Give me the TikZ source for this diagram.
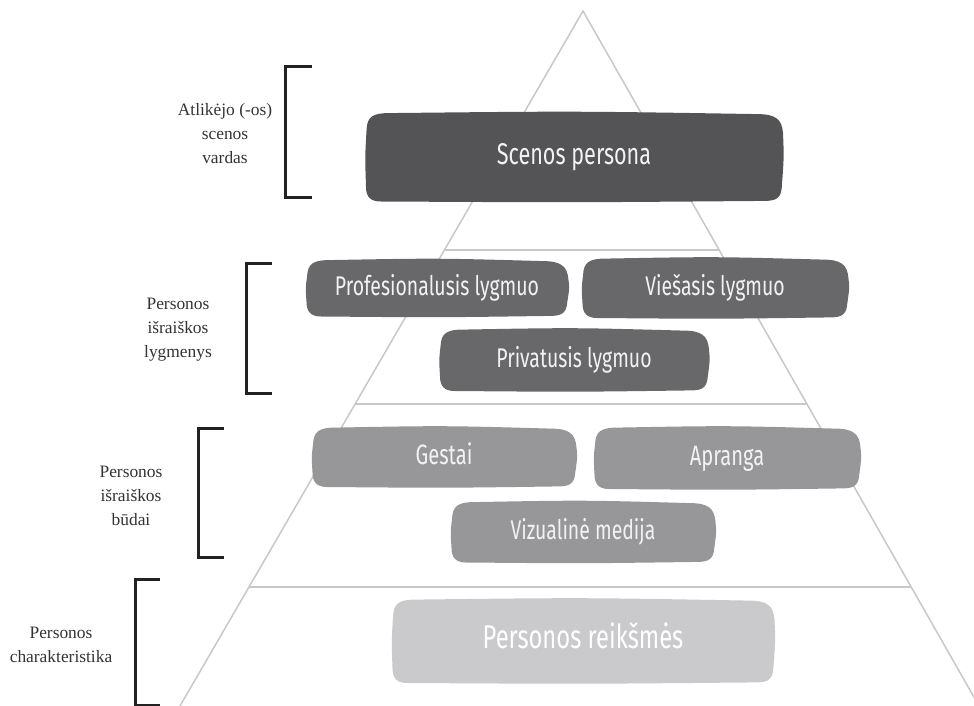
\documentclass[tikz,border=0pt]{standalone}
\usepackage{fontspec}
\setmainfont{Liberation Serif}
\newfontfamily\boxfont[FakeStretch=0.72]{Fira Sans}
\usetikzlibrary{calc}
\pgfdeclarelayer{bg}
\pgfsetlayers{bg,main}
\definecolor{cdark}{HTML}{545457}
\definecolor{cmid}{HTML}{68686B}
\definecolor{cgray}{HTML}{97979A}
\definecolor{clight}{HTML}{CACACC}
\definecolor{ctri}{HTML}{C8C8C8}
\definecolor{cbrk}{HTML}{222222}
\definecolor{clab}{HTML}{333333}
\tikzset{
  box/.style={inner sep=0pt, text=white!95!black, text height=0.72em, text depth=0pt},
  tri/.style={draw=ctri, line width=0.75pt},
  brk/.style={draw=cbrk, line width=1.5pt, line cap=butt, line join=miter},
  lab/.style={align=center, text=clab, font=\fontsize{8.7}{12}\selectfont},
}
\newcommand\blob[2]{%
  \begin{pgfonlayer}{bg}
  \fill[#2] ($(#1.south west)+(7pt,-0.3pt)$)
    .. controls ($(#1.south west)+(2pt,-0.3pt)$) and ($(#1.south west)+(-0.3pt,2pt)$) .. ($(#1.south west)+(-0.3pt,7pt)$)
    .. controls ($(#1.west)+(-0.8pt,0pt)$) .. ($(#1.north west)+(0pt,-8pt)$)
    .. controls ($(#1.north west)+(0.3pt,-2pt)$) and ($(#1.north west)+(3pt,0pt)$) .. ($(#1.north west)+(11pt,0pt)$)
    .. controls ($(#1.north)+(0pt,1pt)$) .. ($(#1.north east)+(-12pt,-0.5pt)$)
    .. controls ($(#1.north east)+(-3pt,-0.5pt)$) and ($(#1.north east)+(0.3pt,-3pt)$) .. ($(#1.north east)+(0.8pt,-10pt)$)
    .. controls ($(#1.east)+(1.3pt,0pt)$) .. ($(#1.south east)+(0.2pt,7pt)$)
    .. controls ($(#1.south east)+(-0.2pt,2pt)$) and ($(#1.south east)+(-2pt,0pt)$) .. ($(#1.south east)+(-8pt,0pt)$)
    .. controls ($(#1.south)+(0pt,-0.8pt)$) .. ($(#1.south west)+(7pt,-0.3pt)$)
    -- cycle;
  \end{pgfonlayer}}
\begin{document}
\begin{tikzpicture}[x=0.5pt,y=-0.5pt]
\useasboundingbox (0,0) rectangle (974,706);
\clip (0,0) rectangle (974,706);
% pyramid
\coordinate (apex) at (583,11);
\coordinate (bl) at (180,706);
\coordinate (br) at (979,706);
\coordinate (l1) at ($(apex)!0.3439!(bl)$);
\coordinate (r1) at ($(apex)!0.3439!(br)$);
\coordinate (l2) at ($(apex)!0.5655!(bl)$);
\coordinate (r2) at ($(apex)!0.5655!(br)$);
\coordinate (l3) at ($(apex)!0.8288!(bl)$);
\coordinate (r3) at ($(apex)!0.8288!(br)$);
\begin{pgfonlayer}{bg}
\draw[tri] (bl) -- (apex) -- (br);
\draw[tri] (l1) -- (r1);
\draw[tri] (l2) -- (r2);
\draw[tri] (l3) -- (r3);
\end{pgfonlayer}
% boxes
\node[box, minimum width=207pt, minimum height=43.5pt, font=\boxfont\fontsize{15}{16}\selectfont] (sp) at (574,157) {Scenos persona};
\node[box, minimum width=129.5pt, minimum height=27.5pt, font=\boxfont\fontsize{13.5}{15}\selectfont] (prof) at (437,288) {Profesionalusis lygmuo};
\node[box, minimum width=131.5pt, minimum height=29pt, font=\boxfont\fontsize{13.5}{15}\selectfont] (vie) at (715,288) {Viešasis lygmuo};
\node[box, minimum width=133pt, minimum height=30pt, font=\boxfont\fontsize{13.5}{15}\selectfont] (pri) at (574,360) {Privatusis lygmuo};
\node[box, minimum width=130.5pt, minimum height=29pt, font=\boxfont\fontsize{14}{15}\selectfont] (ges) at (444,457) {Gestai};
\node[box, minimum width=131.5pt, minimum height=30pt, font=\boxfont\fontsize{14}{15}\selectfont] (apr) at (727,458) {Apranga};
\node[box, minimum width=130.5pt, minimum height=29.5pt, font=\boxfont\fontsize{13.5}{15}\selectfont] (viz) at (583,532) {Vizualinė medija};
\node[box, text=white, minimum width=189.5pt, minimum height=41pt, font=\boxfont\fontsize{16.5}{18}\selectfont] (rei) at (583,641) {Personos reikšmės};
\blob{sp}{cdark}
\blob{prof}{cmid}
\blob{vie}{cmid}
\blob{pri}{cmid}
\blob{ges}{cgray}
\blob{apr}{cgray}
\blob{viz}{cgray}
\blob{rei}{clight}
% brackets
\draw[brk] (312,67) -- (285,67) -- (285,197) -- (312,197);
\draw[brk] (272,263) -- (246,263) -- (246,393) -- (272,393);
\draw[brk] (224,428) -- (198,428) -- (198,557) -- (224,557);
\draw[brk] (160,579) -- (135,579) -- (135,705) -- (160,705);
% labels
\node[lab] (t1) at (225,134) {Atlikėjo (-os)\\scenos\\vardas};
\node[lab] (t2) at (178,330) {Personos\\išraiškos\\lygmenys};
\node[lab] (t3) at (131,496) {Personos\\išraiškos\\būdai};
\node[lab] (t4) at (61,645) {Personos\\charakteristika};
\end{tikzpicture}
\end{document}
